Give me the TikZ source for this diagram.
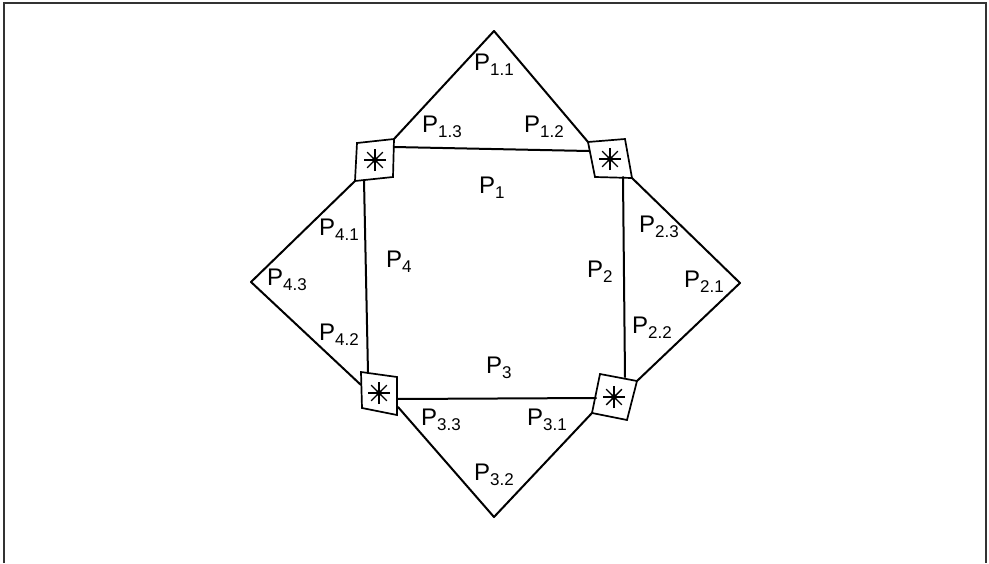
\documentclass[tikz,border=0pt]{standalone}
\usepackage{fontspec}
\usetikzlibrary{calc}
\setmainfont{Liberation Sans}
\newcommand{\plab}[1]{P\raisebox{-5pt}{\fontsize{17}{17}\selectfont #1}}
\begin{document}
\begin{tikzpicture}[x=1pt,y=-1pt,
  edge/.style={line width=2pt,line join=round,line cap=round},
  box/.style={line width=1.7pt,line join=miter},
  spoke/.style={line width=1.4pt},
  lbl/.style={anchor=base west,inner sep=0pt,font=\fontsize{24}{24}\selectfont}]
\useasboundingbox (0,0) rectangle (989,563);
\draw[line width=2pt,black!80] (4,563) -- (4,3) -- (986,3) -- (986,563);
% apexes
\coordinate (AT) at (494,31);
\coordinate (AL) at (251,282);
\coordinate (AR) at (740,283);
\coordinate (AB) at (494,517);
% square corners
\coordinate (tl1) at (357,143); \coordinate (tl2) at (394,139);
\coordinate (tl3) at (393,177); \coordinate (tl4) at (355,181);
\coordinate (tr1) at (588,142); \coordinate (tr2) at (625,139);
\coordinate (tr3) at (632,178); \coordinate (tr4) at (595,177);
\coordinate (bl1) at (361,372); \coordinate (bl2) at (397,377);
\coordinate (bl3) at (397,415); \coordinate (bl4) at (362,408);
\coordinate (br1) at (600,374); \coordinate (br2) at (637,381);
\coordinate (br3) at (627,420); \coordinate (br4) at (592,413);
\draw[box] (tl1) -- (tl2) -- (tl3) -- (tl4) -- cycle;
\draw[box] (tr1) -- (tr2) -- (tr3) -- (tr4) -- cycle;
\draw[box] (bl1) -- (bl2) -- (bl3) -- (bl4) -- cycle;
\draw[box] (br1) -- (br2) -- (br3) -- (br4) -- cycle;
% asterisks
\coordinate (cTL) at (375,160);
\coordinate (cTR) at (610,159);
\coordinate (cBL) at (379,393);
\coordinate (cBR) at (614,397);
\foreach \c in {cTL,cTR,cBL,cBR}{
  \foreach \a in {0,45,90,135}{
    \draw[spoke] ($(\c)+(\a:11)$) -- ($(\c)+(\a:-11)$);
  }
  \fill (\c) circle (3pt);
}
% inner square
\coordinate (i1) at (394,147); \coordinate (i2) at (589,151);
\coordinate (i3) at (364,180); \coordinate (i4) at (368,373);
\coordinate (i5) at (623,177); \coordinate (i6) at (625,377);
\coordinate (i7) at (397,399); \coordinate (i8) at (596,398);
\draw[edge] (i1) -- (i2);
\draw[edge] (i3) -- (i4);
\draw[edge] (i5) -- (i6);
\draw[edge] (i7) -- (i8);
% outer triangles
\coordinate (lb) at (361,385);
\coordinate (bb) at (398,407);
\draw[edge] (tl2) -- (AT) -- (tr1);
\draw[edge] (tl4) -- (AL) -- (lb);
\draw[edge] (tr3) -- (AR) -- (br2);
\draw[edge] (bb) -- (AB) -- (br4);
% labels
\node[lbl] (p11) at (474,70) {\plab{1.1}};
\node[lbl] (p13) at (422,132) {\plab{1.3}};
\node[lbl] (p12) at (524,132) {\plab{1.2}};
\node[lbl] (p1) at (479,193) {\plab{1}};
\node[lbl] (p41) at (319,235) {\plab{4.1}};
\node[lbl] (p4) at (386,267) {\plab{4}};
\node[lbl] (p43) at (267,285) {\plab{4.3}};
\node[lbl] (p42) at (319,340) {\plab{4.2}};
\node[lbl] (p2) at (587,277) {\plab{2}};
\node[lbl] (p23) at (639,232) {\plab{2.3}};
\node[lbl] (p21) at (684,287) {\plab{2.1}};
\node[lbl] (p22) at (632,333) {\plab{2.2}};
\node[lbl] (p3) at (486,373) {\plab{3}};
\node[lbl] (p33) at (421,425) {\plab{3.3}};
\node[lbl] (p31) at (527,425) {\plab{3.1}};
\node[lbl] (p32) at (474,480) {\plab{3.2}};
\end{tikzpicture}
\end{document}
